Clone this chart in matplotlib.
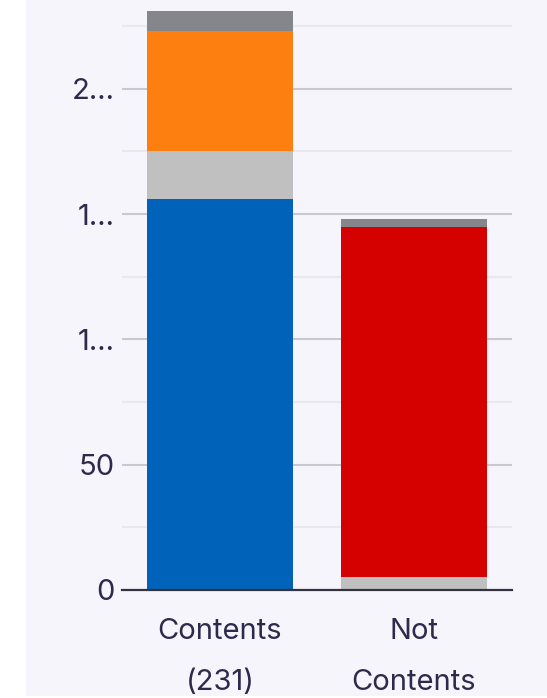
import matplotlib.pyplot as plt
from matplotlib.patches import Rectangle
from matplotlib.ticker import MultipleLocator
import numpy as np

categories = ['Contents\n(231)', 'Not\nContents']
blue = [156, 0]
light_grey = [19, 5]
red = [0, 140]
orange = [48, 0]
dark_grey = [8, 3]
ytick_vals = [0, 50, 100, 150, 200]
ytick_labels = ['0', '50', '1...', '1...', '2...']

series = [
    (blue, '#0062b8'),
    (light_grey, '#c0c0c0'),
    (red, '#d50000'),
    (orange, '#fd7f0f'),
    (dark_grey, '#85868c'),
]

txt = '#2d2a4c'
plt.rcParams['font.family'] = ['Inter', 'DejaVu Sans']

fig = plt.figure(figsize=(5.47, 6.98), dpi=100)
fig.patches.append(Rectangle((26 / 547, 2 / 698), 1, 1, transform=fig.transFigure,
                             facecolor='#f7f5fc', edgecolor='none', zorder=-10))

ax = fig.add_axes([122 / 547, 1 - 590 / 698, (512 - 122) / 547, (590 - 6) / 698])
ax.set_facecolor('none')

x = np.arange(len(categories))
bottom = np.zeros(len(categories))
for vals, col in series:
    ax.bar(x, vals, width=0.75, bottom=bottom, color=col, zorder=3)
    bottom += np.array(vals)

ax.set_xlim(-0.505, 1.505)
ax.set_ylim(0, 233)
ax.set_yticks(ytick_vals)
ax.set_yticklabels(ytick_labels)
ax.yaxis.set_minor_locator(MultipleLocator(25))
ax.grid(axis='y', which='major', color='#c9c7d1', linewidth=1.5, zorder=0)
ax.grid(axis='y', which='minor', color='#e9e7ef', linewidth=1.5, zorder=0)
ax.set_axisbelow(True)

ax.set_xticks(x)
ax.set_xticklabels(categories, linespacing=2.17)
ax.tick_params(axis='both', which='both', length=0, labelsize=21, labelcolor=txt)
ax.tick_params(axis='y', pad=5)
ax.tick_params(axis='x', pad=20)

for s in ['top', 'right', 'left']:
    ax.spines[s].set_visible(False)
ax.spines['bottom'].set_color('#333340')
ax.spines['bottom'].set_linewidth(1.6)
ax.spines['bottom'].set_zorder(5)

fig.savefig('out.png', dpi=100)
